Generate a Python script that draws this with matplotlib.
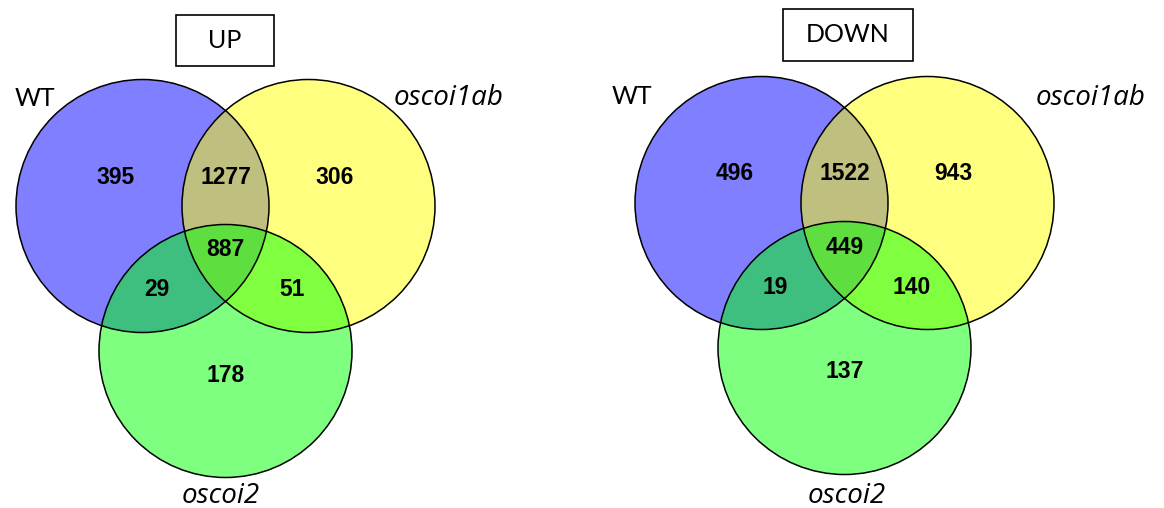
import matplotlib.pyplot as plt
from matplotlib.patches import Circle, Rectangle

# gene counts per region: A only, A&B, B only, A&B&C, A&C, B&C, C only
sets = ['WT', 'oscoi1ab', 'oscoi2']
up_counts = [395, 1277, 306, 887, 29, 51, 178]
down_counts = [496, 1522, 943, 449, 19, 140, 137]
titles = ['UP', 'DOWN']

fill_colors = ['#0000ff', '#ffff00', '#00ff00']
R = 126.5

# label offsets of each region from the WT circle centre (pixels)
region_offsets = [(-27, -29), (83, -29), (192, -29), (83, 44),
                  (14, 84), (150, 84), (83, 169)]

panels = [
    dict(counts=up_counts, title=titles[0], origin=(142.5, 206),
         box=(176, 15, 98, 51), wt_xy=(15, 98), b_xy=(394, 98), c_xy=(221, 496)),
    dict(counts=down_counts, title=titles[1], origin=(761.5, 203),
         box=(783, 9, 130, 52), wt_xy=(612, 97), b_xy=(1036, 98), c_xy=(847, 496)),
]

fig = plt.figure(figsize=(11.64, 5.08), dpi=100)
ax = fig.add_axes([0, 0, 1, 1])
ax.set_xlim(0, 1164)
ax.set_ylim(508, 0)
ax.set_aspect('equal')
ax.axis('off')

for p in panels:
    x0, y0 = p['origin']
    centres = [(x0, y0), (x0 + 166, y0), (x0 + 83, y0 + 145)]
    for (cx, cy), col in zip(centres, fill_colors):
        ax.add_patch(Circle((cx, cy), R, facecolor=col, edgecolor='none', alpha=0.5))
    for cx, cy in centres:
        ax.add_patch(Circle((cx, cy), R, facecolor='none', edgecolor='black', lw=1.1))

    for n, (dx, dy) in zip(p['counts'], region_offsets):
        ax.text(x0 + dx, y0 + dy, str(n), ha='center', va='center', fontsize=16.5,
                fontweight='bold', family='Liberation Sans')

    bx, by, bw, bh = p['box']
    ax.add_patch(Rectangle((bx, by), bw, bh, facecolor='white', edgecolor='black', lw=1.2))
    ax.text(bx + bw / 2, by + bh / 2, p['title'], ha='center', va='center',
            fontsize=18, family='Lato')

    ax.text(*p['wt_xy'], sets[0], ha='left', va='center', fontsize=18, family='Lato')
    ax.text(*p['b_xy'], sets[1], ha='left', va='center', fontsize=20,
            family='Open Sans', style='italic')
    ax.text(*p['c_xy'], sets[2], ha='center', va='center', fontsize=20,
            family='Open Sans', style='italic')

fig.savefig('out.png', dpi=100)
